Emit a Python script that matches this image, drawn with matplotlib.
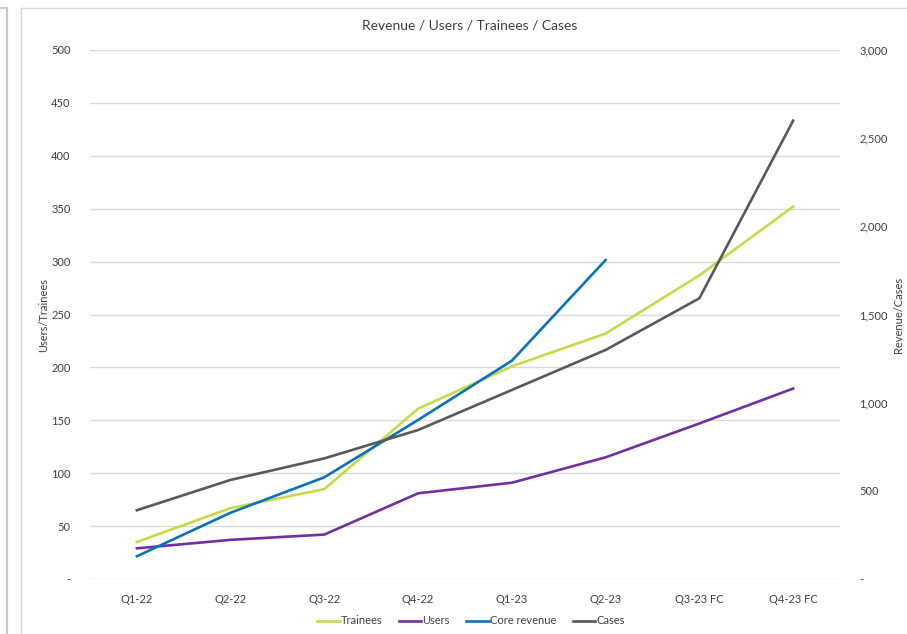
import numpy as np
import matplotlib.pyplot as plt
from matplotlib.lines import Line2D
from matplotlib.ticker import FuncFormatter

# quarters and series
quarters = ['Q1-22', 'Q2-22', 'Q3-22', 'Q4-22', 'Q1-23', 'Q2-23', 'Q3-23 FC', 'Q4-23 FC']
trainees = [35, 67, 85, 161, 201, 232, 287, 352]
users = [29, 37, 42, 81, 91, 115, 147, 180]
core_revenue = [129, 376, 577, 902, 1238, 1809, np.nan, np.nan]
cases = [390, 562, 684, 845, 1072, 1299, 1592, 2599]

plt.rcParams['font.family'] = ['Lato', 'DejaVu Sans']
txt = '#404040'

fig = plt.figure(figsize=(9.07, 6.34), dpi=100)
ax = fig.add_axes([90/907, 1 - 579/634, 750/907, 529/634])
ax2 = ax.twinx()

x = np.arange(len(quarters))
lw = 1.9
l1, = ax.plot(x, trainees, color='#C8D94A', lw=lw, label='Trainees')
l2, = ax.plot(x, users, color='#7030A0', lw=lw, label='Users')
l3, = ax2.plot(x, core_revenue, color='#0A72BA', lw=lw, label='Core revenue')
l4, = ax2.plot(x, cases, color='#595959', lw=lw, label='Cases')

ax.set_xlim(-0.5, len(quarters) - 0.5)
ax.set_ylim(0, 500)
ax2.set_ylim(0, 3000)
ax.set_yticks(range(0, 501, 50))
ax2.set_yticks(range(0, 3001, 500))

fmt = FuncFormatter(lambda v, p: '-' if v == 0 else f'{v:,.0f}')
ax.yaxis.set_major_formatter(fmt)
ax2.yaxis.set_major_formatter(fmt)

ax.set_xticks(x)
ax.set_xticklabels(quarters)
ax.grid(axis='y', color='#D9D9D9', lw=1)
ax.set_axisbelow(True)
ax.set_zorder(ax2.get_zorder() - 1)
ax2.patch.set_visible(False)
ax.patch.set_visible(False)

for a in (ax, ax2):
    for s in a.spines.values():
        s.set_visible(False)
    a.tick_params(length=0, labelsize=8, colors=txt)
ax.tick_params(axis='y', pad=14)
ax2.tick_params(axis='y', pad=14)
ax.tick_params(axis='x', pad=11)

ax.set_ylabel('Users/Trainees', fontsize=8, color=txt)
ax2.set_ylabel('Revenue/Cases', fontsize=8, color=txt)
ax.yaxis.set_label_coords((49 - 90) / 750, 0.5)
ax2.yaxis.set_label_coords((893 - 90) / 750, 0.5)

fig.text(470/907, 1 - 26/634, 'Revenue / Users / Trainees / Cases',
         ha='center', va='center', fontsize=10, color=txt)

fig.legend(handles=[l1, l2, l3, l4], loc='center', bbox_to_anchor=(471/907, 1 - 621/634),
           ncol=4, frameon=False, fontsize=8, handlelength=2.0, handletextpad=0.1,
           columnspacing=1.5, labelcolor=txt)

# frame lines from the screenshot
H, W = 634, 907
fig.add_artist(Line2D([7/W, 7/W], [0, 1 - 8/H], color='#C8C8C8', lw=1.6))
fig.add_artist(Line2D([0, 7/W], [1 - 8/H, 1 - 8/H], color='#C8C8C8', lw=1.2))
fig.add_artist(Line2D([21/W, 21/W], [0, 1 - 8/H], color='#D9D9D9', lw=1))
fig.add_artist(Line2D([21/W, 1], [1 - 8/H, 1 - 8/H], color='#D9D9D9', lw=1))

fig.savefig('out.png', dpi=100)
